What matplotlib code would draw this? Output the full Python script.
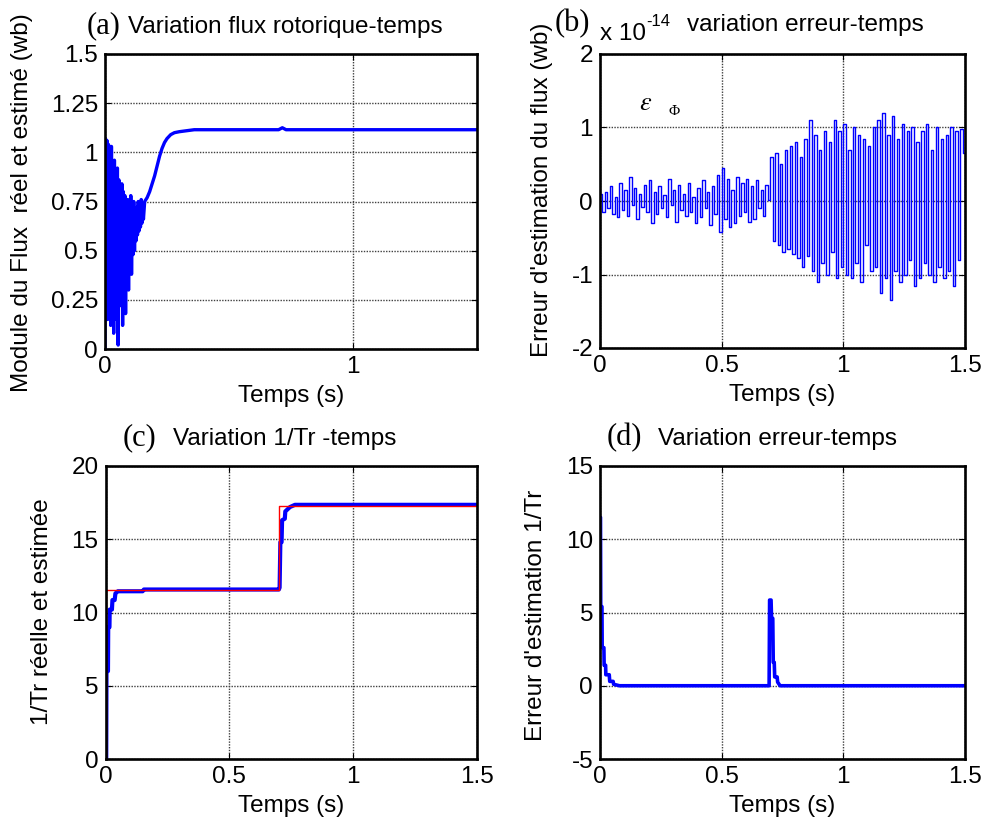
import numpy as np
import matplotlib
matplotlib.use('Agg')
import matplotlib.pyplot as plt
from matplotlib.ticker import FormatStrFormatter

plt.rcParams['font.family'] = ['Liberation Sans', 'DejaVu Sans']
plt.rcParams['mathtext.fontset'] = 'stix'

W, H = 987, 825
tick_fs = 17.5
label_fs = 17.5
blue = '#0000FF'
red = '#FF0000'

# (a) flux module vs time
t_flux = [
    0.000, 0.002, 0.005, 0.008, 0.011, 0.014, 0.017, 0.020, 0.023, 0.026,
    0.029, 0.032, 0.035, 0.038, 0.041, 0.044, 0.047, 0.050, 0.053, 0.056,
    0.059, 0.062, 0.065, 0.068, 0.071, 0.074, 0.077, 0.080, 0.083, 0.086,
    0.089, 0.092, 0.095, 0.098, 0.101, 0.104, 0.107, 0.110, 0.113, 0.116,
    0.119, 0.122, 0.125, 0.128, 0.131, 0.134, 0.137, 0.140, 0.143, 0.146,
    0.149, 0.152, 0.155, 0.160, 0.170, 0.180, 0.190, 0.200, 0.210, 0.220,
    0.230, 0.240, 0.250, 0.265, 0.280, 0.300, 0.330, 0.360, 0.700, 0.715,
    0.730, 0.745, 1.000, 1.500]
flux = [
    0.00, 1.07, 0.25, 1.06, 0.15, 1.04, 0.30, 0.98, 0.12, 1.03,
    0.22, 0.92, 0.08, 0.96, 0.25, 0.90, 0.15, 0.92, 0.02, 0.86,
    0.30, 0.82, 0.22, 0.84, 0.12, 0.80, 0.28, 0.78, 0.18, 0.74,
    0.40, 0.76, 0.30, 0.72, 0.45, 0.78, 0.38, 0.70, 0.48, 0.75,
    0.50, 0.70, 0.55, 0.72, 0.58, 0.75, 0.60, 0.72, 0.62, 0.76,
    0.64, 0.73, 0.66, 0.75, 0.77, 0.80, 0.84, 0.88, 0.93, 0.98,
    1.02, 1.05, 1.07, 1.09, 1.10, 1.105, 1.11, 1.115, 1.115, 1.125,
    1.115, 1.115, 1.115, 1.115]

# (b) flux estimation error, x 1e-14, sampled every 0.01 s
err_flux = [
    0.10, -0.15, 0.12, -0.10, 0.20, -0.18, 0.05, -0.22, 0.25, -0.12,
    0.15, -0.20, 0.32, -0.05, 0.18, -0.25, 0.10, -0.08, 0.22, -0.15,
    0.28, -0.30, 0.12, -0.18, 0.20, -0.10, 0.08, -0.22, 0.30, -0.05,
    0.15, -0.28, 0.22, -0.12, 0.10, -0.20, 0.25, -0.15, 0.05, -0.30,
    0.18, -0.22, 0.28, -0.10, 0.12, -0.32, 0.20, -0.18, 0.35, -0.42,
    0.45, -0.25, 0.30, -0.35, 0.15, -0.30, 0.32, -0.20, 0.25, -0.15,
    0.30, -0.28, 0.20, -0.25, 0.28, -0.10, 0.15, -0.20, 0.22, 0.02,
    0.60, -0.55, 0.65, -0.60, 0.50, -0.70, 0.70, -0.65, 0.75, -0.72,
    0.80, -0.78, 0.60, -0.90, 0.85, -0.75, 1.10, -0.95, 0.90, -1.10,
    0.70, -0.85, 0.95, -1.00, 0.80, -0.70, 1.10, -1.05, 0.95, -0.90,
    1.05, -1.00, 0.70, -1.05, 1.00, -0.85, 0.90, -1.10, 0.85, -0.60,
    0.75, -0.95, 1.00, -0.90, 1.10, -1.25, 1.20, -1.05, 0.90, -1.35,
    1.15, -0.95, 0.85, -1.10, 1.05, -1.00, 0.95, -0.80, 1.00, -1.15,
    0.80, -1.05, 0.95, -0.85, 1.05, -1.00, 0.70, -1.10, 1.00, -0.90,
    0.85, -1.05, 0.90, -0.95, 1.00, -1.15, 0.95, -0.80, 0.98, 0.65]

# (c) 1/Tr real (red) and estimated (blue)
t_tr_real = [0.0, 0.0, 0.70, 0.70, 1.50]
tr_real = [0.0, 11.55, 11.55, 17.28, 17.28]
t_tr_est = [0.0, 0.003, 0.004, 0.010, 0.011, 0.016, 0.017, 0.026, 0.028, 0.037,
            0.040, 0.050, 0.150, 0.155, 0.700, 0.703, 0.706, 0.711, 0.713, 0.724,
            0.726, 0.745, 0.765, 1.500]
tr_est = [0.0, 0.0, 6.0, 6.0, 9.0, 9.0, 10.2, 10.2, 10.85, 10.85,
          11.3, 11.45, 11.45, 11.57, 11.57, 11.7, 14.8, 14.8, 16.3, 16.4,
          16.9, 17.2, 17.35, 17.35]

# (d) 1/Tr estimation error
t_err_tr = [0.0, 0.002, 0.003, 0.008, 0.009, 0.016, 0.017, 0.023, 0.024, 0.038,
            0.040, 0.054, 0.056, 0.080, 0.695, 0.697, 0.703, 0.705, 0.710, 0.712,
            0.716, 0.718, 0.728, 0.730, 0.740, 1.500]
err_tr = [11.5, 11.5, 5.4, 5.4, 2.6, 2.6, 1.4, 1.4, 0.75, 0.75,
          0.3, 0.3, 0.1, 0.0, 0.0, 5.85, 5.85, 4.6, 4.6, 1.6,
          1.6, 0.6, 0.6, 0.25, 0.0, 0.0]


def px_axes(fig, x0, y0, x1, y1):
    return fig.add_axes([x0 / W, 1 - y1 / H, (x1 - x0) / W, (y1 - y0) / H])


def style(ax, xt, yt, ylim):
    ax.set_xlim(0, 1.5)
    ax.set_ylim(*ylim)
    ax.set_xticks(xt)
    ax.set_yticks(yt)
    ax.xaxis.set_major_formatter(FormatStrFormatter('%g'))
    ax.yaxis.set_major_formatter(FormatStrFormatter('%g'))
    ax.grid(True, color='0.25', linestyle=(0, (1, 1)), linewidth=1.0)
    ax.tick_params(direction='in', length=4, width=0.8, labelsize=tick_fs, pad=5,
                   top=True, right=True)
    for s in ax.spines.values():
        s.set_linewidth(1.9)
    ax.set_xlabel('Temps (s)', fontsize=label_fs, labelpad=5)


def title(x_par, x_txt, y, par, txt):
    fig.text(x_par / W, 1 - y / H, par, family='Liberation Serif', fontsize=22,
             ha='left', va='baseline')
    fig.text(x_txt / W, 1 - y / H, txt, fontsize=label_fs, ha='left', va='baseline')


fig = plt.figure(figsize=(W / 100, H / 100), dpi=100)

ax1 = px_axes(fig, 105, 54, 477, 349)
ax1.plot(t_flux, flux, color=blue, linewidth=2.4)
style(ax1, [0, 1], [0, 0.25, 0.5, 0.75, 1, 1.25, 1.5], (0, 1.5))
ax1.set_ylabel('Module du Flux  réel et estimé (wb)', fontsize=label_fs)
ax1.yaxis.set_label_coords(-0.194, 0.495)

ax2 = px_axes(fig, 600, 54, 965, 348)
t_b = np.linspace(0, 1.5, len(err_flux) + 1)
ax2.plot(t_b, err_flux + [err_flux[-1]], color=blue, linewidth=1.0, drawstyle='steps-post')
style(ax2, [0, 0.5, 1, 1.5], [-2, -1, 0, 1, 2], (-2, 2))
ax2.set_ylabel("Erreur d'estimation du flux (wb)", fontsize=label_fs)
ax2.yaxis.set_label_coords(-0.129, 0.537)
ax2.text(0.16, 1.33, r'$\varepsilon$', fontsize=19, ha='left', va='center')
ax2.text(0.28, 1.22, 'Φ', family='Liberation Serif', fontsize=11, ha='left', va='center')

ax3 = px_axes(fig, 105.5, 466, 477, 759)
ax3.plot(t_tr_est, tr_est, color=blue, linewidth=3.0)
ax3.plot(t_tr_real, tr_real, color=red, linewidth=1.0)
style(ax3, [0, 0.5, 1, 1.5], [0, 5, 10, 15, 20], (0, 20))
ax3.set_ylabel('1/Tr réelle et estimée', fontsize=label_fs)
ax3.yaxis.set_label_coords(-0.141, 0.503)

ax4 = px_axes(fig, 600, 466, 965, 759)
ax4.plot(t_err_tr, err_tr, color=blue, linewidth=2.6)
style(ax4, [0, 0.5, 1, 1.5], [-5, 0, 5, 10, 15], (-5, 15))
ax4.set_ylabel("Erreur d'estimation 1/Tr", fontsize=label_fs)
ax4.yaxis.set_label_coords(-0.145, 0.49)

title(87, 128, 33, '(a)', 'Variation flux rotorique-temps')
title(555, 687, 31, '(b)', 'variation erreur-temps')
fig.text(600 / W, 1 - 40 / H, 'x 10', fontsize=label_fs, ha='left', va='baseline')
fig.text(646 / W, 1 - 26 / H, '-14', fontsize=12, ha='left', va='baseline')
title(123, 173, 445, '(c)', 'Variation 1/Tr -temps')
title(607, 658, 445, '(d)', 'Variation erreur-temps')

fig.savefig('out.png', dpi=100)
